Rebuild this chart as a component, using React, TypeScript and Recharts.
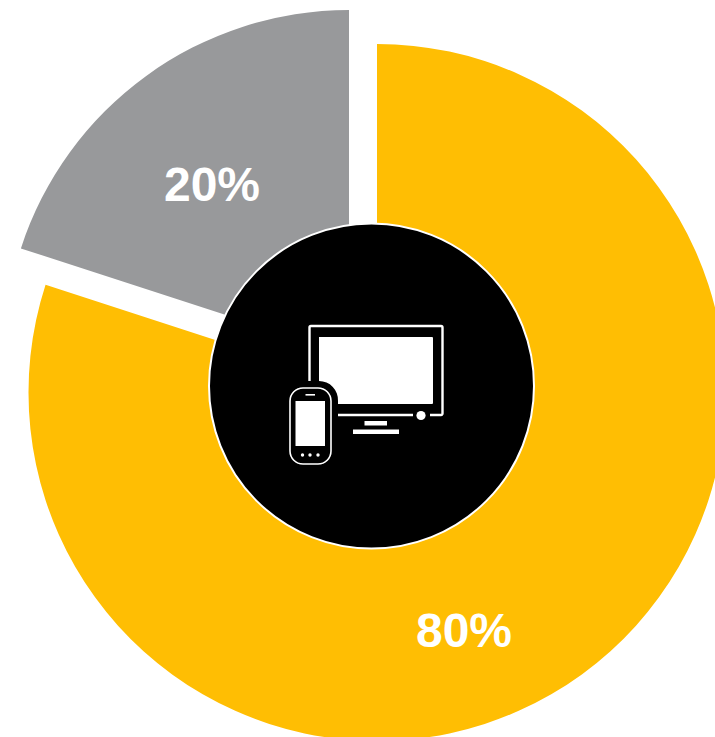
import React from "react";
import { PieChart, Pie, Sector } from "recharts";

const shareLabels = ["80%", "20%"];
const shareValues = [80, 20];
const shareColors = ["#FFBE03", "#98999B"];
const hubValues = [100];

const CHART_W = 715;
const CHART_H = 737;
const CX = 377;
const CY = 392.5;
const SLICE_RADIUS = [348.5, 345];
const SLICE_SHIFT = [{ x: 0, y: 0 }, { x: -28, y: -37.5 }];
const LABEL_POS = [{ x: 464, y: 647 }, { x: 212, y: 201 }];
const HUB = { cx: 371.5, cy: 386, r: 162.5 };

const slices = shareLabels.map((name, i) => ({ name, value: shareValues[i], fill: shareColors[i] }));
const hub = hubValues.map((value) => ({ name: "hub", value, fill: "#000000" }));

// The smaller slice is pulled outward from the ring.
function Slice(props: any) {
  const { index, startAngle, endAngle, cx, cy, innerRadius, fill } = props;
  return (
    <Sector
      cx={cx + SLICE_SHIFT[index].x}
      cy={cy + SLICE_SHIFT[index].y}
      innerRadius={innerRadius}
      outerRadius={SLICE_RADIUS[index]}
      startAngle={startAngle}
      endAngle={endAngle}
      fill={fill}
      stroke="none"
    />
  );
}

const labelStyle = {
  fontFamily: "'Liberation Sans', Arial, sans-serif",
  fontWeight: 700,
  fontSize: 48,
  fill: "#FFFFFF",
} as const;

function SliceLabel(props: any) {
  const { index } = props;
  return (
    <text x={LABEL_POS[index].x} y={LABEL_POS[index].y} textAnchor="middle" style={labelStyle}>
      {shareLabels[index]}
    </text>
  );
}

// A full turn is drawn as a plain circle so no radial seam appears; the device glyphs ride on it.
function HubDisc(props: any) {
  const { cx, cy, outerRadius, fill } = props;
  return (
    <g>
      <circle cx={cx} cy={cy} r={outerRadius} fill={fill} stroke="#FFFFFF" strokeWidth={2} />
      <DevicesIcon />
    </g>
  );
}

// Television with a handset in front of it, in white on the black hub.
function DevicesIcon() {
  return (
    <g>
      <path
        d="M309.5 381 V327.5 a1.5 1.5 0 0 1 1.5 -1.5 H441 a1.5 1.5 0 0 1 1.5 1.5 V413.5 a1.5 1.5 0 0 1 -1.5 1.5 H430"
        fill="none"
        stroke="#fff"
        strokeWidth={2.4}
      />
      <path d="M338 415 H413" fill="none" stroke="#fff" strokeWidth={2.4} />
      <path
        d="M319 337 H432 a1 1 0 0 1 1 1 V403 a1 1 0 0 1 -1 1 H338 V401 A19 19 0 0 0 319 381 Z"
        fill="#fff"
      />
      <circle cx={421} cy={415.5} r={4.6} fill="#fff" />
      <rect x={364.5} y={421} width={22.5} height={4.5} fill="#fff" />
      <rect x={353} y={429.5} width={46} height={4.5} fill="#fff" />
      <rect x={290} y={388} width={41} height={76} rx={13} fill="#000" stroke="#fff" strokeWidth={1.6} />
      <rect x={295.5} y={401} width={29.5} height={45} fill="#fff" />
      <rect x={305.5} y={394} width={9.5} height={1.6} fill="#fff" />
      <circle cx={302.5} cy={455} r={1.7} fill="#fff" />
      <circle cx={310} cy={455} r={1.7} fill="#fff" />
      <circle cx={318} cy={455} r={1.7} fill="#fff" />
    </g>
  );
}

export default function App() {
  return (
    <div style={{ position: "absolute", left: 0, top: 0, width: CHART_W, height: CHART_H, overflow: "hidden", background: "#fff" }}>
      <PieChart width={CHART_W} height={CHART_H} margin={{ top: 0, right: 0, bottom: 0, left: 0 }}>
        <Pie
          data={slices}
          dataKey="value"
          nameKey="name"
          cx={CX}
          cy={CY}
          innerRadius={110}
          outerRadius={348.5}
          startAngle={90}
          endAngle={-270}
          stroke="none"
          shape={Slice}
          label={SliceLabel}
          labelLine={false}
          isAnimationActive={false}
        />
        <Pie
          data={hub}
          dataKey="value"
          cx={HUB.cx}
          cy={HUB.cy}
          innerRadius={0}
          outerRadius={HUB.r}
          startAngle={90}
          endAngle={-270}
          shape={HubDisc}
          isAnimationActive={false}
        />
      </PieChart>
    </div>
  );
}
